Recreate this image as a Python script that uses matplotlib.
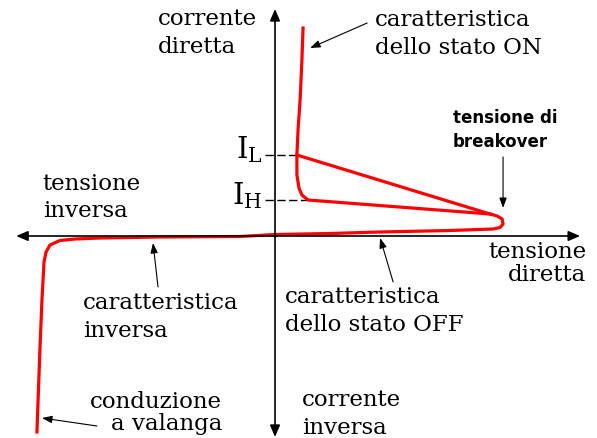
import matplotlib
matplotlib.use("Agg")
import matplotlib.pyplot as plt

plt.rcParams["mathtext.fontset"] = "dejavuserif"

# thyristor V-I characteristic (arbitrary units: breakover voltage = 100)
rev_v = [-104.4, -103.9, -103.1, -102.2, -101.3, -100.4, -98.7, -94.3, -87.7, -76.8, -50.4, -15.4, 0.0]
rev_i = [-19.6, -16.4, -11.4, -6.4, -2.6, -1.6, -0.9, -0.45, -0.3, -0.2, -0.1, -0.05, 0.15]

off_v = [0.0, 24.1, 46.0, 76.8, 95.6, 98.7, 100.0, 99.6, 97.4, 94.3]
off_i = [0.15, 0.25, 0.4, 0.55, 0.7, 0.85, 1.2, 1.7, 2.0, 2.2]

on_v = [14.5, 11.8, 10.5, 9.6, 9.6, 10.1, 11.0, 11.8, 12.3]
on_i = [3.6, 4.1, 4.8, 6.1, 8.1, 10.6, 13.6, 17.6, 20.8]

I_L = 8.1
I_H = 3.6
V_L = 9.6    # ON curve voltage at I_L
V_BO = 94.3  # where the latching / holding lines meet near breakover
I_BO = 2.2

fig = plt.figure(figsize=(5.97, 4.38), dpi=100)
ax = fig.add_axes([0, 0, 1, 1])
ax.set_xlim(-120.6, 141.2)
ax.set_ylim(-20.2, 23.6)
ax.axis("off")

# axes with arrow heads
arrow_kw = dict(arrowstyle="-|>,head_length=0.7,head_width=0.3", color="black", lw=1.2,
                shrinkA=0, shrinkB=0)
ax.annotate("", xy=(133.8, 0), xytext=(-1, 0), arrowprops=arrow_kw)
ax.annotate("", xy=(-113.5, 0), xytext=(1, 0), arrowprops=arrow_kw)
ax.annotate("", xy=(0, 22.7), xytext=(0, -0.1), arrowprops=arrow_kw)
ax.annotate("", xy=(0, -20.1), xytext=(0, 0.1), arrowprops=arrow_kw)

# I_L and I_H ticks
ax.plot([-4.4, V_L], [I_L, I_L], color="black", lw=1.0, dashes=(6, 2.5))
ax.plot([-4.4, on_v[0]], [I_H, I_H], color="black", lw=1.0, dashes=(6, 2.5))

red = "#ff0000"
lw = 2.3
ax.plot(rev_v + off_v + on_v, rev_i + off_i + on_i, color=red, lw=lw,
        solid_joinstyle="round")
ax.plot([V_L, V_BO], [I_L, I_BO], color=red, lw=lw)

serif = ["DejaVu Serif"]
fs = 16.5
ls = 1.3

ax.text(-51.3, 20.3, "corrente\ndiretta", family=serif, fontsize=fs,
        ha="left", va="center", linespacing=ls)
ax.text(43.9, 20.2, "caratteristica\ndello stato ON", family=serif, fontsize=fs,
        ha="left", va="center", linespacing=ls)
ax.text(78.1, 10.6, "tensione di\nbreakover", family=["DejaVu Sans"], fontsize=12,
        fontweight="bold", ha="left", va="center", linespacing=1.4)
ax.text(-5.5, 8.6, r"$\mathrm{I_L}$", fontsize=21, ha="right", va="center")
ax.text(-5.5, 4.0, r"$\mathrm{I_H}$", fontsize=21, ha="right", va="center")
ax.text(-101.8, 3.85, "tensione\ninversa", family=serif, fontsize=fs,
        ha="left", va="center", linespacing=ls)
ax.text(136.5, -2.75, "tensione\ndiretta", family=serif, fontsize=fs,
        ha="right", va="center", multialignment="right", linespacing=1.05)
ax.text(4.4, -7.5, "caratteristica\ndello stato OFF", family=serif, fontsize=fs,
        ha="left", va="center", linespacing=ls)
ax.text(11.8, -17.8, "corrente\ninversa", family=serif, fontsize=fs,
        ha="left", va="center", linespacing=ls)
ax.text(-84.2, -8.1, "caratteristica\ninversa", family=serif, fontsize=fs,
        ha="left", va="center", linespacing=ls)
ax.text(-23.2, -17.7, "conduzione\na valanga", family=serif, fontsize=fs,
        ha="right", va="center", multialignment="right", linespacing=1.0)

# pointer arrows from the labels
ptr_kw = dict(arrowstyle="-|>,head_length=0.6,head_width=0.22", color="black", lw=0.8,
              shrinkA=0, shrinkB=0)
ax.annotate("", xy=(15.4, 18.8), xytext=(40.4, 21.3), arrowprops=ptr_kw)
ax.annotate("", xy=(100, 2.8), xytext=(100, 7.9), arrowprops=ptr_kw)
ax.annotate("", xy=(-53.5, -0.7), xytext=(-51.3, -5.1), arrowprops=ptr_kw)
ax.annotate("", xy=(46.1, -0.2), xytext=(51.8, -4.6), arrowprops=ptr_kw)
ax.annotate("", xy=(-102.2, -18.2), xytext=(-78.1, -19.0), arrowprops=ptr_kw)

fig.savefig("out.png", dpi=100)
